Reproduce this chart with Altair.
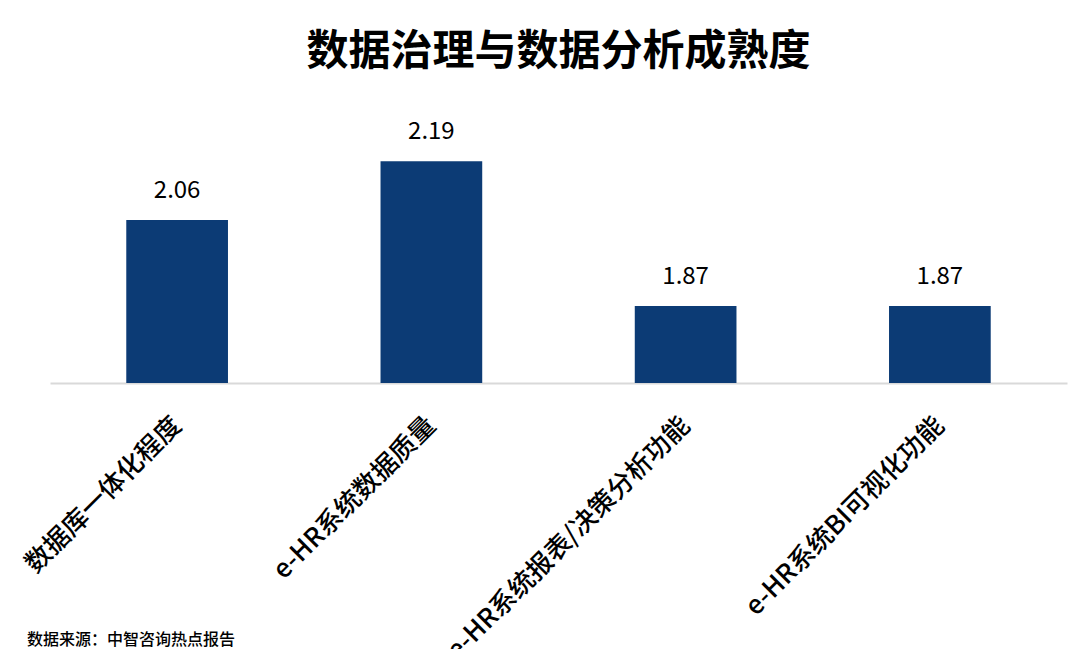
import altair as alt
import pandas as pd

categories = ["数据库一体化程度", "e-HR系统数据质量", "e-HR系统报表/决策分析功能", "e-HR系统BI可视化功能"]
values = [2.06, 2.19, 1.87, 1.87]
value_labels = ["2.06", "2.19", "1.87", "1.87"]
baseline_value = [1.7]
source_note = ["数据来源：中智咨询热点报告"]

df = pd.DataFrame({"cat": categories, "val": values, "lab": value_labels,
                   "base": baseline_value * len(categories)})

FONT = "Noto Sans CJK SC"

x_enc = alt.X(
    "cat:N",
    sort=categories,
    scale=alt.Scale(paddingInner=0.6, paddingOuter=0.3),
    axis=alt.Axis(
        title=None,
        labelAngle=-45,
        labelAlign="right",
        labelBaseline="middle",
        labelFont=FONT,
        labelFontSize=26,
        labelFontWeight=500,
        labelColor="#000000",
        labelPadding=38,
        labelLimit=0,
        ticks=False,
        domainColor="#d9d9d9",
        domainWidth=2,
        grid=False,
    ),
)
y_enc = alt.Y(
    "val:Q",
    scale=alt.Scale(domain=[1.7, 2.25], zero=False, nice=False),
    axis=None,
)

bars = alt.Chart(df).mark_bar(color="#0c3b75").encode(x=x_enc, y=y_enc, y2="base:Q")

texts = alt.Chart(df).mark_text(
    font=FONT, fontSize=24, color="#000000", baseline="alphabetic", dy=-22
).encode(x=alt.X("cat:N", sort=categories), y="val:Q", text="lab:N")

note = alt.Chart(pd.DataFrame({"t": source_note})).mark_text(
    font=FONT, fontSize=16, fontWeight=500, color="#000000", align="left", baseline="middle"
).encode(x=alt.value(-23), y=alt.value(506), text="t:N")

chart = (
    alt.layer(bars, texts, note)
    .properties(
        width=1017,
        height=249,
        background="#ffffff",
        title=alt.TitleParams(
            "数据治理与数据分析成熟度",
            font=FONT,
            fontSize=42,
            fontWeight="bold",
            color="#000000",
            anchor="middle",
            offset=46,
        ),
        autosize=alt.AutoSizeParams(type="none"),
        padding={"left": 42, "top": 126, "right": 3, "bottom": 266},
    )
    .configure_view(stroke=None, strokeWidth=0)
)

chart.save("out.html", embed_options={"renderer": "svg", "actions": False})
